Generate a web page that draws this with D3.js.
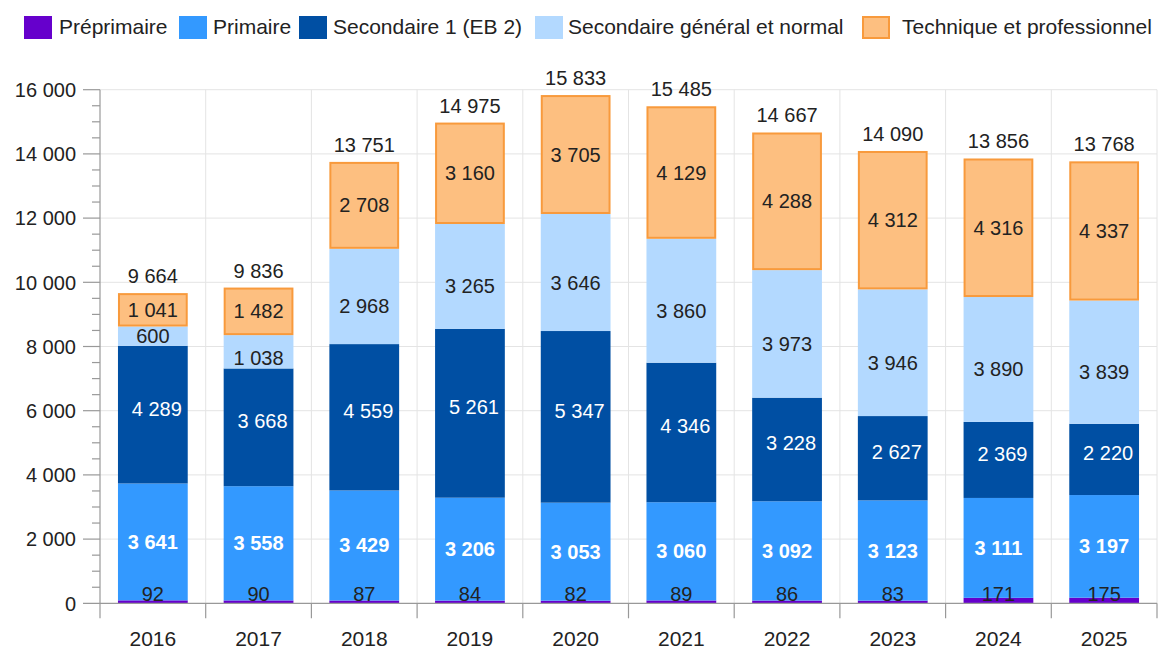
<!DOCTYPE html>
<html>
<head>
<meta charset="utf-8">
<script src="https://cdn.jsdelivr.net/npm/d3@7"></script>
<style>
  html, body { margin: 0; padding: 0; background: #fff; }
  svg { display: block; font-family: "Liberation Sans", Arial, sans-serif; }
</style>
</head>
<body>
<svg id="chart" width="1161" height="649"></svg>
<script>
const years = ["2016","2017","2018","2019","2020","2021","2022","2023","2024","2025"];
const seriesNames = ["Préprimaire","Primaire","Secondaire 1 (EB 2)","Secondaire général et normal","Technique et professionnel"];
const preprimaire = [92, 90, 87, 84, 82, 89, 86, 83, 171, 175];
const primaire = [3641, 3558, 3429, 3206, 3053, 3060, 3092, 3123, 3111, 3197];
const secondaire1 = [4289, 3668, 4559, 5261, 5347, 4346, 3228, 2627, 2369, 2220];
const secondaireGeneral = [600, 1038, 2968, 3265, 3646, 3860, 3973, 3946, 3890, 3839];
const technique = [1041, 1482, 2708, 3160, 3705, 4129, 4288, 4312, 4316, 4337];
const totals = [9664, 9836, 13751, 14975, 15833, 15485, 14667, 14090, 13856, 13768];
const yTicks = [0, 2000, 4000, 6000, 8000, 10000, 12000, 14000, 16000];

(function () {
const colors = ["#6600cc", "#3399ff", "#004fa3", "#b3d9ff", "#fdbf80"];
const labelColors = ["#222", "#fff", "#fff", "#222", "#222"];
const labelWeights = ["normal", "bold", "normal", "normal", "normal"];
const seriesValues = [preprimaire, primaire, secondaire1, secondaireGeneral, technique];

const svg = d3.select("#chart");
const pLeft = 100, pRight = 1157, pTop = 89.7, pBottom = 603.3;

const x = d3.scaleBand().domain(years).range([pLeft, pRight]).paddingInner(0.34).paddingOuter(0.17);
const y = d3.scaleLinear().domain([0, 16000]).range([pBottom, pTop]);
const fmt = v => d3.format(",")(v).replace(/,/g, " ");

// gridlines
const g = svg.append("g");
g.selectAll("line.h").data(yTicks.filter(t => t > 0)).join("line")
  .attr("x1", pLeft).attr("x2", pRight)
  .attr("y1", d => y(d)).attr("y2", d => y(d))
  .attr("stroke", "#e4e4e4").attr("stroke-width", 1);
const step = x.step();
const bounds = d3.range(1, years.length + 1).map(i => pLeft + i * step);
g.selectAll("line.v").data(bounds).join("line")
  .attr("x1", d => d).attr("x2", d => d)
  .attr("y1", pTop).attr("y2", pBottom)
  .attr("stroke", "#e4e4e4").attr("stroke-width", 1);

// stacked data
const table = years.map((yr, i) => {
  const o = { year: yr };
  seriesNames.forEach((s, k) => o[s] = seriesValues[k][i]);
  return o;
});
const stack = d3.stack().keys(seriesNames)(table);

stack.forEach((layer, k) => {
  const isTech = k === 4;
  svg.append("g").selectAll("rect").data(layer).join("rect")
    .attr("x", d => x(d.data.year) + (isTech ? 1 : 0))
    .attr("width", x.bandwidth() - (isTech ? 2 : 0))
    .attr("y", d => y(d[1]) + (isTech ? 1 : 0))
    .attr("height", d => Math.max(0, y(d[0]) - y(d[1]) - (isTech ? 2 : 0)))
    .attr("fill", colors[k])
    .attr("stroke", isTech ? "#f89a3c" : "none")
    .attr("stroke-width", isTech ? 2 : 0);
});

// axes
const axisColor = "#999";
svg.append("line").attr("x1", pLeft).attr("x2", pLeft).attr("y1", pTop).attr("y2", pBottom + 15)
  .attr("stroke", axisColor).attr("stroke-width", 1.2);
svg.append("line").attr("x1", pLeft - 17).attr("x2", pRight).attr("y1", pBottom).attr("y2", pBottom)
  .attr("stroke", axisColor).attr("stroke-width", 1.2);
svg.append("g").selectAll("line").data(bounds).join("line")
  .attr("x1", d => d).attr("x2", d => d).attr("y1", pBottom).attr("y2", pBottom + 15)
  .attr("stroke", axisColor).attr("stroke-width", 1.2);
const minor = d3.range(500, 16001, 500);
svg.append("g").selectAll("line").data(minor).join("line")
  .attr("x1", d => (d % 2000 === 0) ? pLeft - 17 : pLeft - 8).attr("x2", pLeft)
  .attr("y1", d => y(d)).attr("y2", d => y(d))
  .attr("stroke", axisColor).attr("stroke-width", 1.2);

svg.append("g").selectAll("text").data(yTicks).join("text")
  .attr("x", 76).attr("y", d => y(d)).attr("dy", "0.36em")
  .attr("text-anchor", "end").attr("font-size", 20).attr("fill", "#222")
  .text(d => fmt(d));

svg.append("g").selectAll("text").data(years).join("text")
  .attr("x", d => x(d) + x.bandwidth() / 2).attr("y", 646)
  .attr("text-anchor", "middle").attr("font-size", 21).attr("fill", "#222")
  .text(d => d);

// segment labels
stack.forEach((layer, k) => {
  svg.append("g").selectAll("text").data(layer).join("text")
    .attr("x", d => x(d.data.year) + x.bandwidth() / 2 + (k === 2 ? 4 : 0))
    .attr("y", d => {
      const y0 = y(d[0]), y1 = y(d[1]), c = (y0 + y1) / 2, h = y0 - y1;
      if (k === 0) return pBottom - 2;
      if (k === 2) return c - 6 + 7;
      if (k === 3) return c + Math.min(10, (h - 20) / 2) + 7;
      return c + 7;
    })
    .attr("text-anchor", "middle").attr("font-size", 20)
    .attr("font-weight", labelWeights[k]).attr("fill", labelColors[k])
    .text(d => fmt(d.data[seriesNames[k]]));
});

// totals
svg.append("g").selectAll("text").data(years).join("text")
  .attr("x", d => x(d) + x.bandwidth() / 2)
  .attr("y", (d, i) => y(d3.sum(seriesValues, s => s[i])) - 10)
  .attr("text-anchor", "middle").attr("font-size", 20).attr("fill", "#222")
  .text((d, i) => fmt(totals[i]));

// legend
const legendX = [[24, 59], [179, 213], [299, 333], [535, 568], [862, 902]];
const lg = svg.append("g");
seriesNames.forEach((s, k) => {
  lg.append("rect").attr("x", legendX[k][0] + (k === 4 ? 1 : 0)).attr("y", 16 + (k === 4 ? 1 : 0))
    .attr("width", 28 - (k === 4 ? 2 : 0)).attr("height", 23 - (k === 4 ? 2 : 0))
    .attr("fill", colors[k])
    .attr("stroke", k === 4 ? "#f89a3c" : "none").attr("stroke-width", 2);
  lg.append("text").attr("x", legendX[k][1]).attr("y", 34)
    .attr("font-size", 21).attr("fill", "#222").text(s);
});
})();
</script>
</body>
</html>
